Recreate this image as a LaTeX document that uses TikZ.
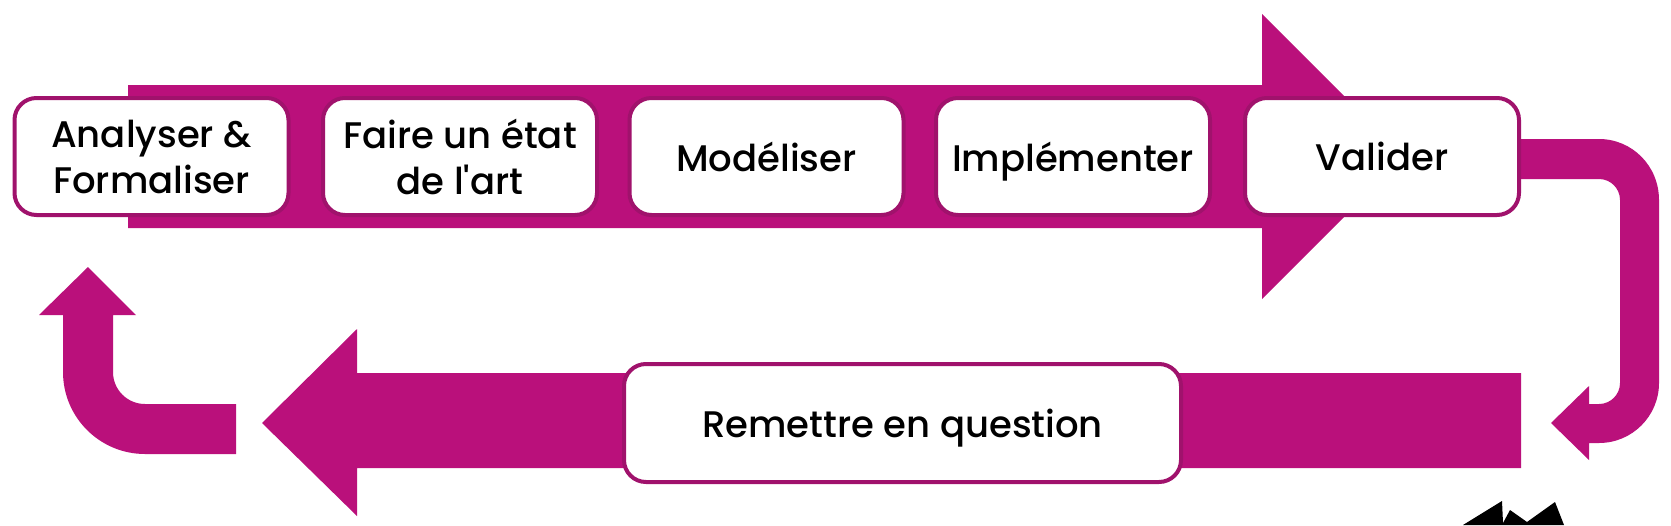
\documentclass[tikz,border=0pt]{standalone}
\usepackage{fontspec}
\setmainfont{Poppins}[UprightFont=* Medium, Ligatures=TeXOff]
\definecolor{mag}{RGB}{186,16,123}
\definecolor{magdark}{RGB}{160,18,108}
\tikzset{
  stepbox/.style={draw=magdark, line width=2pt, fill=white, rounded corners=11pt,
    minimum width=137pt, minimum height=58.5pt, inner sep=0pt, align=center,
    font=\fontsize{18.5}{23}\selectfont},
  band/.style={fill=mag}
}
\newcommand{\nodepth}[1]{\raisebox{0pt}[\height][0pt]{#1}}
\begin{document}
\begin{tikzpicture}[x=0.5pt,y=-0.5pt]
\useasboundingbox (0,0) rectangle (1671,525);
% top arrow
\fill[band] (128,85) -- (1262,85) -- (1262,14) -- (1404.5,156.5) -- (1262,299) -- (1262,228) -- (128,228) -- cycle;
% bottom arrow
\fill[band] (1521,373) -- (357,373) -- (357,329) -- (262,423) -- (357,516) -- (357,468) -- (1521,468) -- cycle;
% right U-turn arrow
\fill[band] (1500,139) -- (1599,139) .. controls (1632.1,139) and (1659,165.9) .. (1659,200)
  -- (1659,383) .. controls (1659,416.1) and (1632.1,443) .. (1599,443)
  -- (1589,443) -- (1589,460) -- (1551,423) -- (1589,386) -- (1589,404) -- (1599,404)
  .. controls (1610.6,404) and (1620,394.6) .. (1620,383)
  -- (1620,200) .. controls (1620,188.4) and (1610.6,179) .. (1599,179)
  -- (1500,179) -- cycle;
% left U-turn arrow
\fill[band] (236,404) -- (145,404) .. controls (127.3,404) and (113,389.7) .. (113,372)
  -- (113,315) -- (136,315) -- (88,267) -- (39,315) -- (63,315) -- (63,372)
  .. controls (63,417.3) and (99.7,454) .. (145,454) -- (236,454) -- cycle;
% boxes
\node[stepbox] (a) at (151.5,156.5) {Analyser \&\\Formaliser};
\node[stepbox] (b) at (460,156.5) {Faire un état\\de l'art};
\node[stepbox] (c) at (766.5,156.5) {Modéliser};
\node[stepbox] (d) at (1073,156.5) {\nodepth{Implémenter}};
\node[stepbox] (e) at (1382,156.5) {Valider};
\node[stepbox, minimum width=278.5pt, minimum height=59pt] (f) at (902.5,423) {\nodepth{Remettre en question}};
% black shape at the bottom edge
\fill[black] (1463,525) -- (1502,501) -- (1503,523) -- (1510,510) -- (1527,522) -- (1555,502) -- (1564,525) -- cycle;
\end{tikzpicture}
\end{document}
